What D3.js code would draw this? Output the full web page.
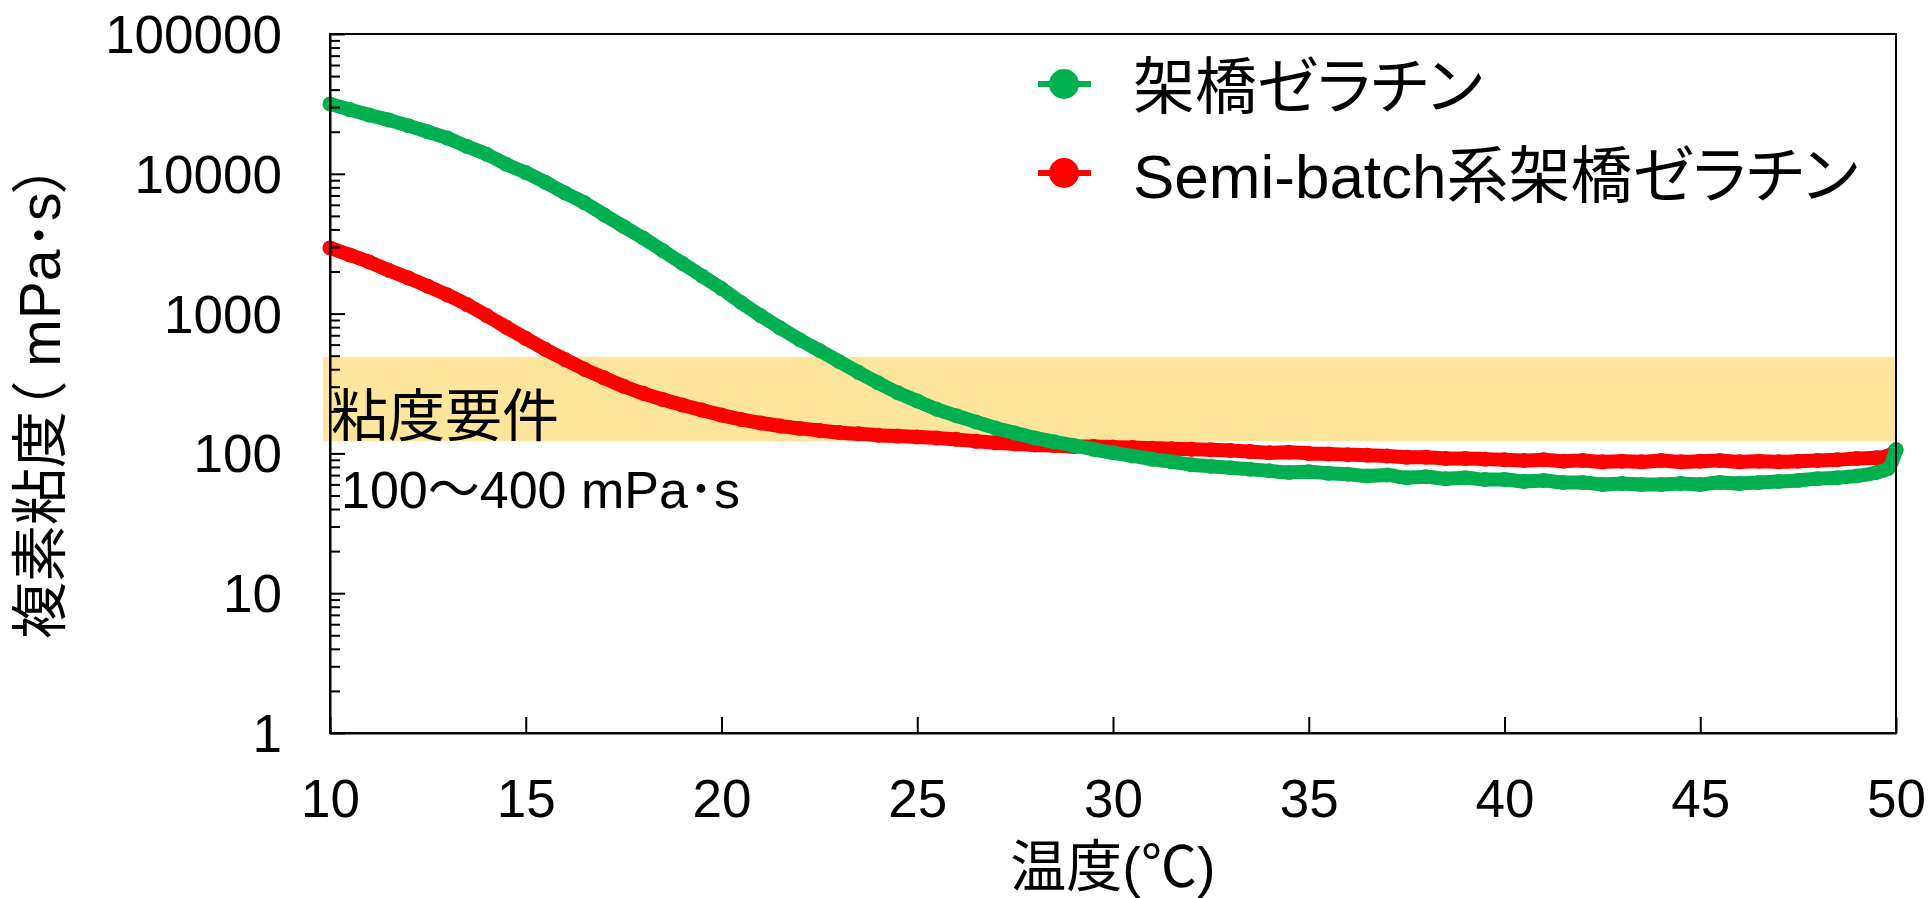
<!DOCTYPE html>
<html lang="ja">
  <head>
    <meta charset="utf-8" />
    <title>複素粘度</title>
    <style>
      body { margin: 0; background: #fff; }
      svg text { font-family: "Liberation Sans", "Noto Sans CJK JP", sans-serif; fill: #000; }
      .cjk { font-feature-settings: "palt"; }
      .axis path, .axis line { stroke: #000; stroke-width: 2px; }
    </style>
  </head>
  <body>
    <div id="vis"></div>
    <script src="https://d3js.org/d3.v7.min.js"></script>
    <script>
      // 温度 (℃)
      const temps = [10, 10.5, 11, 11.5, 12, 12.5, 13, 13.5, 14, 14.5, 15, 15.5, 16, 16.5, 17, 17.5, 18, 18.5, 19, 19.5,
        20, 20.5, 21, 21.5, 22, 22.5, 23, 23.5, 24, 24.5, 25, 25.5, 26, 26.5, 27, 27.5, 28, 28.5, 29, 29.5,
        30, 30.5, 31, 31.5, 32, 32.5, 33, 33.5, 34, 34.5, 35, 35.5, 36, 36.5, 37, 37.5, 38, 38.5, 39, 39.5,
        40, 40.5, 41, 41.5, 42, 42.5, 43, 43.5, 44, 44.5, 45, 45.5, 46, 46.5, 47, 47.5, 48, 48.5, 49, 49.5, 49.8, 50];
      // 架橋ゼラチン (mPa・s)
      const gelatin = [31600, 28800, 26300, 24300, 22100, 20000, 18000, 15700, 13800, 11700, 10200, 8700, 7300, 6200, 5100, 4200, 3470, 2820, 2290, 1860,
        1510, 1200, 966, 790, 650, 545, 455, 380, 320, 272, 237, 207, 186, 168, 152, 140, 129, 121, 114, 107,
        101, 96, 91, 87, 83, 81, 79, 77, 75, 73, 74, 72, 71, 69, 70, 67, 68, 66, 67, 65,
        65, 63, 64, 62, 62, 60, 61, 60, 60, 61, 60, 62, 61, 62, 63, 64, 66, 67, 69, 73, 78, 106];
      // Semi-batch系架橋ゼラチン (mPa・s)
      const semiBatch = [2950, 2630, 2340, 2040, 1800, 1570, 1360, 1160, 970, 800, 665, 555, 470, 400, 347, 302, 269, 243, 222, 204,
        188, 175, 165, 157, 151, 146, 141, 138, 135, 133, 131, 129, 126, 122, 119, 117, 115, 114, 112, 112,
        111, 110, 109, 108, 107, 106, 105, 103, 101, 102, 100, 99, 98, 97, 96, 94, 94, 92, 92, 91,
        90, 89, 90, 88, 89, 87, 88, 87, 89, 87, 88, 89, 87, 88, 87, 88, 89, 90, 92, 93, 96, 106];
      const seriesNames = ["架橋ゼラチン", "Semi-batch系架橋ゼラチン"];
      const seriesColors = ["#00b050", "#ff0000"];
      const xTicks = [10, 15, 20, 25, 30, 35, 40, 45, 50];
      const yTicks = [1, 10, 100, 1000, 10000, 100000];
      const band = [122, 490]; // 粘度要件の帯
      const bandLabel = "粘度要件";
      const bandRange = "100～400 mPa･s";

      const W = 1932, H = 898;
      const mLeft = 330, mRight = 1896, mTop = 34, mBottom = 733;

      const svg = d3.select("#vis").append("svg").attr("width", W).attr("height", H);
      const x = d3.scaleLinear().domain([10, 50]).range([mLeft, mRight]);
      const y = d3.scaleLog().domain([1, 100000]).range([mBottom, mTop]);

      // requirement band
      svg.append("rect")
        .attr("x", mLeft - 7).attr("width", mRight - mLeft + 7)
        .attr("y", y(band[1])).attr("height", y(band[0]) - y(band[1]))
        .attr("fill", "#fde59b");

      svg.append("text").attr("class", "cjk")
        .attr("x", mLeft + 1).attr("y", 436)
        .style("font-family", "'Noto Sans CJK JP'")
        .style("font-size", "57px").text(bandLabel);
      svg.append("text")
        .attr("x", mLeft + 11).attr("y", 508)
        .style("font-size", "52px").text(bandRange);

      // series
      const line = d3.line().x(d => x(d[0])).y(d => y(d[1])).curve(d3.curveMonotoneX);
      const series = [gelatin, semiBatch].map(vals => temps.map((t, i) => [t, vals[i]]));
      // red is drawn under green
      [1, 0].forEach(k => {
        const g = svg.append("g");
        g.append("path").datum(series[k]).attr("d", line)
          .attr("fill", "none").attr("stroke", seriesColors[k])
          .attr("stroke-width", 14).attr("stroke-linejoin", "round").attr("stroke-linecap", "round");
        g.selectAll("circle").data(series[k]).join("circle")
          .attr("cx", d => x(d[0])).attr("cy", d => y(d[1])).attr("r", 7.5)
          .attr("fill", seriesColors[k]);
      });

      // axes
      const minor = [];
      yTicks.slice(0, -1).forEach(p => { for (let m = 2; m < 10; m++) minor.push(p * m); });
      svg.append("g").attr("class", "axis").attr("transform", `translate(${mLeft},0)`)
        .call(d3.axisLeft(y).tickValues(minor).tickSize(-10).tickSizeOuter(0).tickFormat(""))
        .call(g => g.select(".domain").remove());
      svg.append("g").attr("class", "axis").attr("transform", `translate(${mLeft},0)`)
        .call(d3.axisLeft(y).tickValues(yTicks).tickSize(-15).tickSizeOuter(0).tickPadding(48).tickFormat(d3.format("d")))
        .call(g => g.selectAll("text").style("font-size", "53px").attr("dy", "0.35em"));
      svg.append("g").attr("class", "axis").attr("transform", `translate(0,${mBottom})`)
        .call(d3.axisBottom(x).tickValues(xTicks).tickSize(-16).tickSizeOuter(0).tickFormat(d3.format("d")))
        .call(g => g.selectAll("text").style("font-size", "53px").attr("y", 84).attr("dy", 0));
      svg.append("rect").attr("x", mLeft).attr("y", mTop)
        .attr("width", mRight - mLeft).attr("height", mBottom - mTop)
        .attr("fill", "none").attr("stroke", "#000").attr("stroke-width", 2);

      // axis titles
      svg.append("text").attr("class", "cjk")
        .attr("transform", `translate(60,${(mTop + mBottom) / 2 + 18}) rotate(-90)`)
        .attr("text-anchor", "middle").style("font-size", "57px")
        .text("複素粘度（ mPa･s）");
      svg.append("text").attr("class", "cjk")
        .attr("x", (mLeft + mRight) / 2).attr("y", 886)
        .attr("text-anchor", "middle").style("font-size", "56px")
        .text("温度(℃)");

      // legend
      const legend = svg.append("g");
      seriesNames.forEach((name, i) => {
        const ly = 84 + i * 89;
        legend.append("line").attr("x1", 1038).attr("x2", 1091).attr("y1", ly).attr("y2", ly)
          .attr("stroke", seriesColors[i]).attr("stroke-width", 6);
        legend.append("circle").attr("cx", 1064).attr("cy", ly).attr("r", 15).attr("fill", seriesColors[i]);
        legend.append("text").attr("class", "cjk").attr("x", 1133).attr("y", ly + 25)
          .style("font-size", "62px").text(name);
      });
    </script>
  </body>
</html>
